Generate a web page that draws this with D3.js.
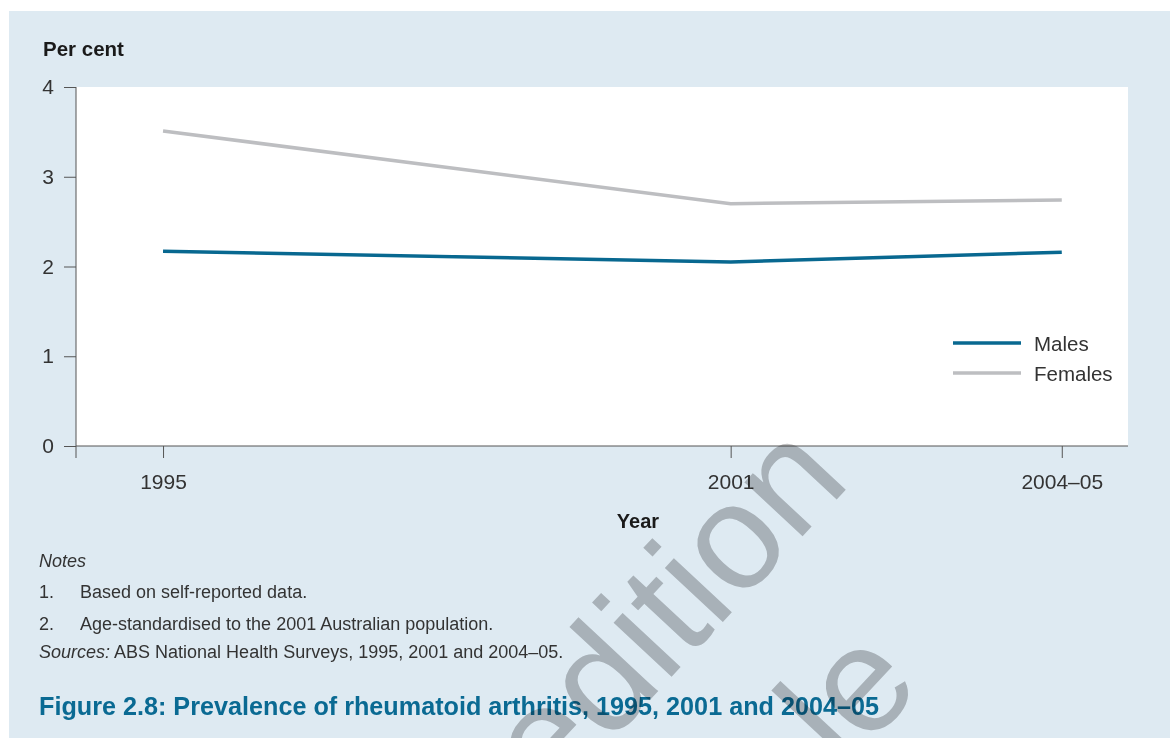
<!DOCTYPE html>
<html><head><meta charset="utf-8">
<script src="https://cdn.jsdelivr.net/npm/d3@7"></script>
<style>
html,body{margin:0;padding:0;background:#fff;}
svg{display:block;}
text{font-family:"Liberation Sans",Arial,Helvetica,sans-serif;}
</style></head>
<body>
<svg id="chart" width="1170" height="738"></svg>
<script>
// ---- data ----
const categories = ["1995", "2001", "2004–05"];
const yearPositions = [1995, 2001, 2004.5];
const males = [2.17, 2.05, 2.16];
const females = [3.51, 2.70, 2.74];
const yTicks = [0, 1, 2, 3, 4];
const seriesNames = ["Males", "Females"];
const notes = ["Based on self-reported data.", "Age-standardised to the 2001 Australian population."];
const watermarkLines = ["edition", "le"];

const svg = d3.select("#chart");
const W = 1170, H = 738;
const textCol = "#333";

// background panel
svg.append("rect").attr("x", 9).attr("y", 11).attr("width", W - 9).attr("height", H - 11).attr("fill", "#deeaf2");

const plot = {left: 76, right: 1128, top: 87, bottom: 446};
const x = d3.scaleLinear().domain([1994.08, 2005.2]).range([plot.left, plot.right]);
const y = d3.scaleLinear().domain([0, 4]).range([plot.bottom, plot.top]);

// plot area
svg.append("rect").attr("x", plot.left).attr("y", plot.top)
  .attr("width", plot.right - plot.left).attr("height", plot.bottom - plot.top).attr("fill", "#fff");

// y axis
const yAxis = d3.axisLeft(y).tickValues(yTicks).tickSize(12).tickPadding(10).tickFormat(d3.format("d"));
const gy = svg.append("g").attr("transform", `translate(${plot.left},0)`).call(yAxis);
gy.select(".domain").remove();
gy.append("line").attr("x1", 0).attr("x2", 0).attr("y1", plot.top).attr("y2", plot.bottom + 12).attr("stroke", "#555");
gy.selectAll(".tick line").attr("stroke", "#555");
gy.selectAll(".tick text").attr("font-size", 21).attr("fill", textCol).attr("font-family", "Liberation Sans, Arial, sans-serif");

// x axis
const xAxis = d3.axisBottom(x).tickValues(yearPositions).tickSize(12).tickPadding(16.5)
  .tickFormat((d, i) => categories[i]);
const gx = svg.append("g").attr("transform", `translate(0,${plot.bottom})`).call(xAxis);
gx.select(".domain").remove();
gx.append("line").attr("x1", plot.left).attr("x2", plot.right).attr("y1", 0).attr("y2", 0).attr("stroke", "#555");
gx.selectAll(".tick line").attr("stroke", "#555");
gx.selectAll(".tick text").attr("font-size", 21).attr("fill", textCol).attr("font-family", "Liberation Sans, Arial, sans-serif");

// axis titles
svg.append("text").attr("x", 43).attr("y", 56).attr("font-size", 20.5).attr("font-weight", 700).attr("fill", "#1a1a1a").text("Per cent");
svg.append("text").attr("x", 638).attr("y", 528).attr("text-anchor", "middle").attr("font-size", 20).attr("font-weight", 700).attr("fill", "#1a1a1a").text("Year");

// lines
const line = d3.line().x((d, i) => x(yearPositions[i])).y(d => y(d));
svg.append("path").datum(females).attr("d", line).attr("fill", "none").attr("stroke", "#bdbec1").attr("stroke-width", 3.5);
svg.append("path").datum(males).attr("d", line).attr("fill", "none").attr("stroke", "#086890").attr("stroke-width", 3.5);

// legend
const legendColors = ["#086890", "#bdbec1"];
const lg = svg.append("g");
seriesNames.forEach((n, i) => {
  const ly = 343 + i * 30;
  lg.append("line").attr("x1", 953).attr("x2", 1021).attr("y1", ly).attr("y2", ly).attr("stroke", legendColors[i]).attr("stroke-width", 3.5);
  lg.append("text").attr("x", 1034).attr("y", ly + 7.5).attr("font-size", 20.5).attr("fill", textCol).text(n);
});

// notes
svg.append("text").attr("x", 39).attr("y", 567).attr("font-size", 18).attr("font-style", "italic").attr("fill", textCol).text("Notes");
notes.forEach((t, i) => {
  const ny = 598 + i * 32;
  svg.append("text").attr("x", 39).attr("y", ny).attr("font-size", 18).attr("fill", textCol).text((i + 1) + ".");
  svg.append("text").attr("x", 80).attr("y", ny).attr("font-size", 18).attr("fill", textCol).text(t);
});
const src = svg.append("text").attr("x", 39).attr("y", 658).attr("font-size", 18).attr("fill", textCol);
src.append("tspan").attr("font-style", "italic").text("Sources:");
src.append("tspan").text(" ABS National Health Surveys, 1995, 2001 and 2004–05.");

// figure title
svg.append("text").attr("x", 39).attr("y", 715).attr("font-size", 25.2).attr("font-weight", 700).attr("fill", "#0a6a93")
  .text("Figure 2.8: Prevalence of rheumatoid arthritis, 1995, 2001 and 2004–05");

// watermark (multiplied over the page)
const wm = svg.append("g").attr("fill", "#c1c1c2").style("mix-blend-mode", "multiply");
wm.append("text").attr("transform", "translate(551,806) rotate(-47)")
  .attr("font-size", 150).text(watermarkLines[0]);
wm.append("text").attr("transform", "translate(844,772) rotate(-47)")
  .attr("font-size", 150).text(watermarkLines[1]);
</script>
</body></html>
